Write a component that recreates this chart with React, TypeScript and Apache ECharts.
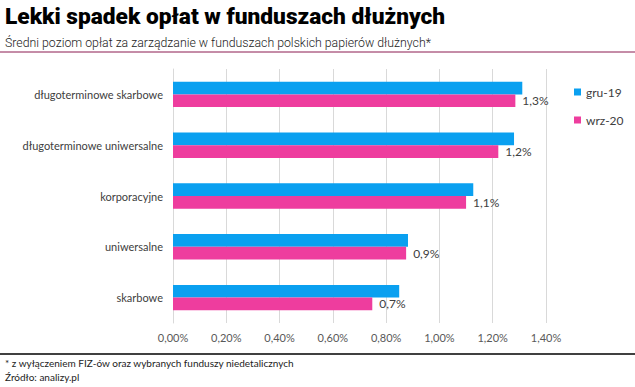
import React, { useEffect, useRef } from "react";
import * as echarts from "echarts";

const categories = [
  "długoterminowe skarbowe",
  "długoterminowe uniwersalne",
  "korporacyjne",
  "uniwersalne",
  "skarbowe",
];
const seriesNames = ["gru-19", "wrz-20"];
const gru19 = [1.311, 1.28, 1.127, 0.882, 0.849];
const wrz20 = [1.285, 1.221, 1.1, 0.875, 0.748];
const xTicks = { min: 0, max: 1.4, interval: 0.2 };

const TITLE = "Lekki spadek opłat w funduszach dłużnych";
const SUBTITLE = "Średni poziom opłat za zarządzanie w funduszach polskich papierów dłużnych*";
const NOTE = "* z wyłączeniem FIZ-ów oraz wybranych funduszy niedetalicznych";
const SOURCE = "Źródło: analizy.pl";

const FONT = "Lato, 'Open Sans', sans-serif";

export default function App() {
  const ref = useRef<HTMLDivElement>(null);
  useEffect(() => {
    document.body.style.margin = "0";
    const chart = echarts.init(ref.current!, null, { renderer: "svg" });
    chart.setOption({
      animation: false,
      backgroundColor: "#ffffff",
      textStyle: { fontFamily: FONT },
      grid: { left: 173, right: 89, top: 69, bottom: 64, containLabel: false },
      legend: {
        orient: "vertical",
        left: 569,
        top: 81,
        itemWidth: 7,
        itemHeight: 7,
        itemGap: 16,
        icon: "rect",
        textStyle: { fontSize: 12, color: "#404040", fontFamily: FONT },
        data: seriesNames,
      },
      xAxis: {
        type: "value",
        min: xTicks.min,
        max: xTicks.max,
        interval: xTicks.interval,
        axisLine: { show: false },
        axisTick: { show: false },
        splitLine: { lineStyle: { color: "#d9d9d9", width: 1 } },
        axisLabel: {
          color: "#595959",
          fontSize: 11,
          margin: 9,
          fontFamily: FONT,
          formatter: (v: number) => v.toFixed(2).replace(".", ",") + "%",
        },
      },
      yAxis: {
        type: "category",
        inverse: true,
        data: categories,
        axisLine: { show: true, lineStyle: { color: "#d9d9d9" } },
        axisTick: { show: false },
        axisLabel: { color: "#404040", fontSize: 11, margin: 10, fontFamily: FONT },
      },
      series: [
        {
          name: seriesNames[0],
          type: "bar",
          data: gru19,
          barGap: "0%",
          barCategoryGap: "50%",
          itemStyle: { color: "#0aa0f0" },
        },
        {
          name: seriesNames[1],
          type: "bar",
          data: wrz20,
          barGap: "0%",
          barCategoryGap: "50%",
          itemStyle: { color: "#ee3d9e" },
          label: {
            show: true,
            position: "right",
            distance: 7,
            color: "#404040",
            fontSize: 12,
            fontFamily: FONT,
            formatter: (p: any) => (p.value as number).toFixed(1).replace(".", ",") + "%",
          },
        },
      ],
      graphic: [
        {
          type: "text",
          left: 5,
          top: 5,
          style: {
            text: TITLE,
            fontSize: 22.7,
            fontWeight: 900,
            fontFamily: "Roboto, sans-serif",
            fill: "#000000",
          },
        },
        {
          type: "text",
          left: 5,
          top: 37,
          style: {
            text: SUBTITLE,
            fontSize: 12.3,
            fontWeight: 300,
            fontFamily: "Roboto, sans-serif",
            fill: "#222222",
          },
        },
        {
          type: "line",
          shape: { x1: 0, y1: 52, x2: 635, y2: 52 },
          style: { stroke: "#8b1a50", lineWidth: 1 },
        },
        {
          type: "line",
          shape: { x1: 0, y1: 354, x2: 635, y2: 354 },
          style: { stroke: "#000000", lineWidth: 1.5 },
        },
        {
          type: "text",
          left: 5,
          top: 358,
          style: { text: NOTE, fontSize: 10, fontFamily: FONT, fill: "#222222" },
        },
        {
          type: "text",
          left: 5,
          top: 372,
          style: { text: SOURCE, fontSize: 10, fontFamily: FONT, fill: "#222222" },
        },
      ],
    });
    return () => chart.dispose();
  }, []);
  return <div ref={ref} style={{ width: 635, height: 387 }} />;
}
